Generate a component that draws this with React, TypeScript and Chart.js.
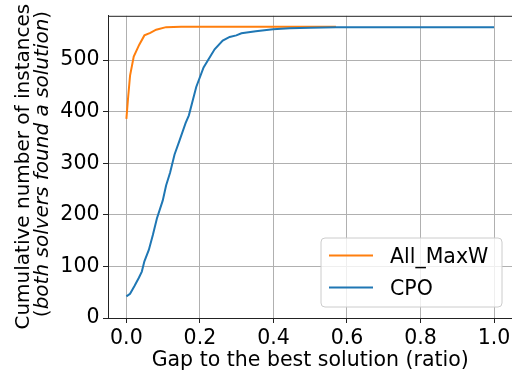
import React, { useEffect, useRef } from "react";
import { Chart, registerables } from "chart.js";

Chart.register(...registerables);

const seriesNames = ["All_MaxW", "CPO"];
const seriesColors = ["#ff7f0e", "#1f77b4"];

const allMaxWX = [0, 0.005, 0.01, 0.02, 0.035, 0.049, 0.065, 0.081, 0.108, 0.149, 0.3, 0.45, 0.57];
const allMaxWY = [386, 430, 470, 507, 530, 548, 553, 559, 564, 565, 565, 565, 565];

const cpoX = [0, 0.01, 0.022, 0.034, 0.042, 0.049, 0.061, 0.072, 0.083, 0.099, 0.108, 0.119, 0.131, 0.144, 0.161, 0.17, 0.19, 0.21, 0.24, 0.262, 0.281, 0.299, 0.313, 0.352, 0.399, 0.444, 0.5, 0.57, 1.0];
const cpoY = [42, 47, 62, 78, 90, 110, 132, 161, 193, 228, 257, 282, 317, 343, 378, 393, 448, 486, 521, 538, 545, 548, 552, 556, 560, 562, 563, 564, 564];

const xTickValues = [0, 0.2, 0.4, 0.6, 0.8, 1.0];
const yTickValues = [0, 100, 200, 300, 400, 500];

const xTitle = "Gap to the best solution (ratio)";
const yTitleLine1 = "Cumulative number of instances";
const yTitleLine2Parts = [
  { t: "(", italic: false },
  { t: "both solvers found a solution", italic: true },
  { t: ")", italic: false },
];

const FONT = "DejaVu Sans";
const FS = 20.5;
const YFS = 20;

function toPoints(xs: number[], ys: number[]) {
  return xs.map((x, i) => ({ x, y: ys[i] }));
}

const overlay = {
  id: "overlay",
  afterDraw(chart: any) {
    const { ctx, chartArea } = chart;
    ctx.save();
    // top spine
    ctx.strokeStyle = "#222";
    ctx.lineWidth = 1;
    ctx.beginPath();
    ctx.moveTo(chartArea.left, chartArea.top + 0.5);
    ctx.lineTo(chartArea.right, chartArea.top + 0.5);
    ctx.stroke();

    // x title
    ctx.fillStyle = "#000";
    ctx.font = `${FS}px "${FONT}"`;
    ctx.textAlign = "center";
    ctx.textBaseline = "alphabetic";
    ctx.fillText(xTitle, (chartArea.left + chartArea.right) / 2, 366);

    // y title line 1
    ctx.save();
    ctx.font = `${YFS}px "${FONT}"`;
    ctx.translate(29, 166.7);
    ctx.rotate(-Math.PI / 2);
    ctx.textAlign = "center";
    ctx.textBaseline = "alphabetic";
    ctx.fillText(yTitleLine1, 0, 0);
    ctx.restore();

    // y title line 2 (mixed styles)
    ctx.save();
    ctx.translate(48.3, 164);
    ctx.rotate(-Math.PI / 2);
    ctx.textAlign = "left";
    ctx.textBaseline = "alphabetic";
    let total = 0;
    const widths = yTitleLine2Parts.map((p) => {
      ctx.font = `${p.italic ? "italic " : ""}${YFS}px "${FONT}"`;
      const w = ctx.measureText(p.t).width;
      total += w;
      return w;
    });
    let xx = -total / 2;
    yTitleLine2Parts.forEach((p, i) => {
      ctx.font = `${p.italic ? "italic " : ""}${YFS}px "${FONT}"`;
      ctx.fillText(p.t, xx, 0);
      xx += widths[i];
    });
    ctx.restore();

    // legend
    const bx = 321, by = 238, bw = 181, bh = 69, r = 4;
    ctx.fillStyle = "rgba(255,255,255,0.8)";
    ctx.strokeStyle = "#cccccc";
    ctx.lineWidth = 1;
    ctx.beginPath();
    ctx.moveTo(bx + r, by);
    ctx.lineTo(bx + bw - r, by);
    ctx.quadraticCurveTo(bx + bw, by, bx + bw, by + r);
    ctx.lineTo(bx + bw, by + bh - r);
    ctx.quadraticCurveTo(bx + bw, by + bh, bx + bw - r, by + bh);
    ctx.lineTo(bx + r, by + bh);
    ctx.quadraticCurveTo(bx, by + bh, bx, by + bh - r);
    ctx.lineTo(bx, by + r);
    ctx.quadraticCurveTo(bx, by, bx + r, by);
    ctx.closePath();
    ctx.fill();
    ctx.stroke();

    const lineRows = [255.5, 287.5];
    const textBase = [263.3, 295];
    seriesNames.forEach((name, i) => {
      ctx.strokeStyle = seriesColors[i];
      ctx.lineWidth = 2;
      ctx.beginPath();
      ctx.moveTo(329, lineRows[i]);
      ctx.lineTo(373, lineRows[i]);
      ctx.stroke();
      ctx.fillStyle = "#000";
      ctx.font = `${FS}px "${FONT}"`;
      ctx.textAlign = "left";
      ctx.textBaseline = "alphabetic";
      ctx.fillText(name, 390, textBase[i]);
    });
    ctx.restore();
  },
};

export default function App() {
  const ref = useRef<HTMLCanvasElement | null>(null);
  useEffect(() => {
    if (!ref.current) return;
    const chart = new Chart(ref.current, {
      type: "line",
      data: {
        datasets: [
          {
            label: seriesNames[0],
            data: toPoints(allMaxWX, allMaxWY),
            borderColor: seriesColors[0],
            backgroundColor: seriesColors[0],
            borderWidth: 2,
            pointRadius: 0,
            tension: 0,
            order: 1,
          },
          {
            label: seriesNames[1],
            data: toPoints(cpoX, cpoY),
            borderColor: seriesColors[1],
            backgroundColor: seriesColors[1],
            borderWidth: 2,
            pointRadius: 0,
            tension: 0,
            order: 0,
          },
        ],
      },
      plugins: [overlay],
      options: {
        animation: false,
        responsive: false,
        devicePixelRatio: 1,
        layout: { padding: { top: 12, right: 3.6, left: 0, bottom: 0 } },
        plugins: { legend: { display: false }, tooltip: { enabled: false } },
        scales: {
          x: {
            type: "linear",
            min: -0.05,
            max: 1.05,
            afterFit: (s: any) => { s.height = 54; },
            afterBuildTicks: (s: any) => { s.ticks = xTickValues.map((v) => ({ value: v })); },
            ticks: {
              includeBounds: false,
              color: "#000",
              font: { family: FONT, size: FS },
              padding: 3,
              maxRotation: 0,
              callback: (v: any) => Number(v).toFixed(1),
            },
            grid: { color: "#b0b0b0", lineWidth: 1, tickColor: "#222", tickLength: 5, drawTicks: true },
            border: { color: "#222", width: 1 },
          },
          y: {
            type: "linear",
            min: 0,
            max: 586,
            afterFit: (s: any) => { s.width = 108; },
            afterBuildTicks: (s: any) => { s.ticks = yTickValues.map((v) => ({ value: v })); },
            ticks: {
              includeBounds: false,
              color: "#000",
              font: { family: FONT, size: FS },
              padding: 3.5,
              callback: (v: any) => String(v),
            },
            grid: { color: "#b0b0b0", lineWidth: 1, tickColor: "#222", tickLength: 5, drawTicks: true },
            border: { color: "#222", width: 1 },
          },
        },
      },
    });
    return () => chart.destroy();
  }, []);
  return (
    <div style={{ position: "fixed", left: 0, top: 0, width: 512, height: 372, overflow: "hidden", background: "#fff" }}>
      <canvas ref={ref} width={516} height={372} style={{ display: "block" }} />
    </div>
  );
}
